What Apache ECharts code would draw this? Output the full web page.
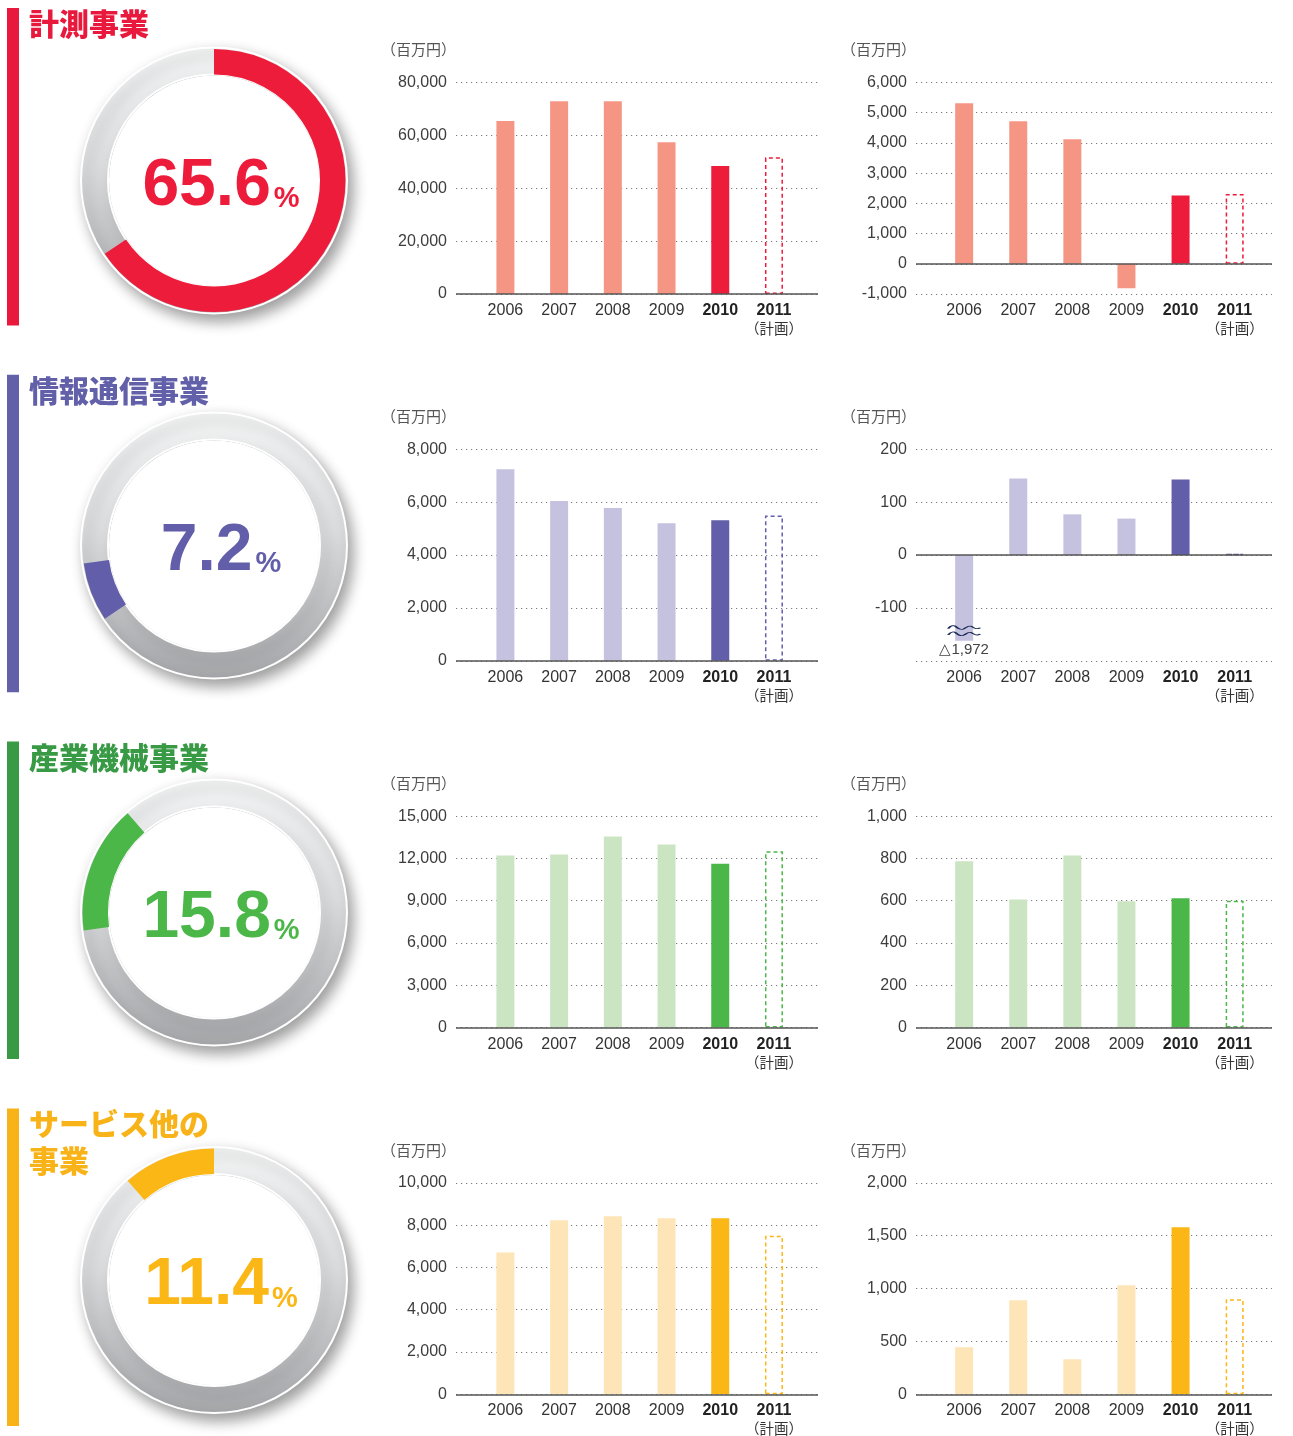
<!DOCTYPE html>
<html><head><meta charset="utf-8">
<script src="https://cdn.jsdelivr.net/npm/echarts@6/dist/echarts.min.js"></script>
<style>html,body{margin:0;padding:0;background:#fff}#c{width:1293px;height:1436px}</style>
</head><body><div id="c"></div>
<script>
// ---------------- DATA ----------------
const years = [2006, 2007, 2008, 2009, 2010, 2011];
const boldYears = [2010, 2011];
const planYear = 2011;
const planNote = '（計画）';
const unitLabel = '（百万円）';
const segmentNames = ['計測事業', '情報通信事業', '産業機械事業', 'サービス他の\n事業'];
const segmentShares = [65.6, 7.2, 15.8, 11.4];

const salesMeasurement  = [65400, 72900, 72900, 57400, 48400, 51700];
const incomeMeasurement = [5310, 4720, 4120, -810, 2260, 2310];
const salesInfoComm     = [7250, 6040, 5780, 5200, 5320, 5500];
const incomeInfoComm    = [-1972, 145, 77, 69, 143, 2];
const salesIndustrial   = [12200, 12280, 13550, 12990, 11620, 12500];
const incomeIndustrial  = [786, 606, 814, 597, 611, 600];
const salesService      = [6710, 8230, 8420, 8330, 8330, 7500];
const incomeService     = [445, 890, 331, 1032, 1581, 900];

const salesTicksMeasurement  = [0, 20000, 40000, 60000, 80000];
const incomeTicksMeasurement = [-1000, 0, 1000, 2000, 3000, 4000, 5000, 6000];
const salesTicksInfoComm     = [0, 2000, 4000, 6000, 8000];
const incomeTicksInfoComm    = [-200, -100, 0, 100, 200];
const salesTicksIndustrial   = [0, 3000, 6000, 9000, 12000, 15000];
const incomeTicksIndustrial  = [0, 200, 400, 600, 800, 1000];
const salesTicksService      = [0, 2000, 4000, 6000, 8000, 10000];
const incomeTicksService     = [0, 500, 1000, 1500, 2000];
const unlabeledTicksInfoComm = [-200];
// off-scale values (below the axis) are drawn broken at this level
const offScaleDrawLevel = -162;

// ---------------- STYLE / LAYOUT ----------------
const NARROW = "'Liberation Sans Narrow','Arial Narrow','Liberation Sans',Arial,sans-serif";
const SANS = "'Liberation Sans',Arial,sans-serif";
const JP = "'Noto Sans CJK JP','Noto Sans',sans-serif";

const rows = [
  {sales: salesMeasurement, income: incomeMeasurement, sT: salesTicksMeasurement, iT: incomeTicksMeasurement, hid: [],
   title: '#E8193C', dark: '#EE1C3B', light: '#F59685'},
  {sales: salesInfoComm, income: incomeInfoComm, sT: salesTicksInfoComm, iT: incomeTicksInfoComm, hid: unlabeledTicksInfoComm,
   title: '#6360AA', dark: '#625EA9', light: '#C5C2DF'},
  {sales: salesIndustrial, income: incomeIndustrial, sT: salesTicksIndustrial, iT: incomeTicksIndustrial, hid: [],
   title: '#399A46', dark: '#4BB748', light: '#CBE5C3'},
  {sales: salesService, income: incomeService, sT: salesTicksService, iT: incomeTicksService, hid: [],
   title: '#F8B318', dark: '#FBB716', light: '#FDE5B8'}
];
const rowPitch = 366.8;
const plotTop0 = 82.5, plotH = 211.5;
const stripeTop0 = 8, stripeH = 317.5;
const donutCx = 214, donutCy = [180.5, 545.5, 912.5, 1280];
const gridL = {left: 456, width: 362, xMin: 2005.08, xMax: 2011.82, unitX: 381};
const gridR = {left: 916, width: 356, xMin: 2005.11, xMax: 2011.69, unitX: 841};

const mctx = document.createElement('canvas').getContext('2d');
function textW(font, t) { mctx.font = font; return mctx.measureText(t).width; }

const grids = [], xAxes = [], yAxes = [], series = [], graphics = [];

function yearLabel(v) {
  const r = Math.round(v);
  if (Math.abs(v - r) > 1e-6 || !years.includes(r)) return '';
  if (r === planYear) return '{b|' + r + '}\n{p|' + planNote + '}';
  if (boldYears.includes(r)) return '{b|' + r + '}';
  return '{n|' + r + '}';
}

function addChart(k, g, top, ticks, hidden, vals, row) {
  grids.push({left: g.left, width: g.width, top: top, height: plotH, containLabel: false});
  xAxes.push({
    type: 'value', gridIndex: k, min: g.xMin, max: g.xMax, splitNumber: 6,
    axisLine: {show: false}, axisTick: {show: false}, splitLine: {show: false},
    axisLabel: {
      margin: 7, formatter: yearLabel, showMinLabel: true, showMaxLabel: true,
      rich: {
        n: {fontSize: 16, fontFamily: NARROW, color: '#333', lineHeight: 19},
        b: {fontSize: 16, fontFamily: NARROW, fontWeight: 'bold', color: '#222', lineHeight: 19},
        p: {fontSize: 14.5, fontFamily: JP, color: '#333', lineHeight: 17}
      }
    }
  });
  yAxes.push({
    type: 'value', gridIndex: k, min: ticks[0], max: ticks[ticks.length - 1], interval: ticks[1] - ticks[0],
    axisLine: {show: false}, axisTick: {show: false},
    axisLabel: {margin: 9, fontSize: 16, fontFamily: NARROW, color: '#3d3d3d',
      formatter: v => hidden.includes(v) ? '' : v.toLocaleString('en-US')},
    splitLine: {show: true, lineStyle: {color: '#7a7a7a', width: 1.2, type: [1.2, 3.8]}}
  });
  const minV = ticks[0];
  const data = years.map((y, i) => {
    const v = vals[i];
    const item = {value: [y, v < minV ? offScaleDrawLevel : v]};
    if (y === planYear) {
      item.itemStyle = {color: 'rgba(0,0,0,0)', borderColor: row.dark, borderWidth: 1.5, borderType: [4, 3]};
    } else if (boldYears.includes(y)) {
      item.itemStyle = {color: row.dark};
    } else {
      item.itemStyle = {color: row.light};
    }
    if (v < minV) {
      item.label = {show: true, position: 'bottom', distance: 2, color: '#444', fontSize: 15, fontFamily: SANS,
        formatter: '△' + Math.abs(v).toLocaleString('en-US')};
    }
    return item;
  });
  const breaks = years.filter((y, i) => vals[i] < minV).map(y => ({coord: [y, offScaleDrawLevel + 19]}));
  series.push({
    type: 'bar', xAxisIndex: k, yAxisIndex: k, barWidth: 18, silent: true, data: data,
    markLine: {silent: true, symbol: 'none', label: {show: false}, animation: false,
      lineStyle: {color: '#555', width: 1.5, type: 'solid'}, data: [{yAxis: 0}]},
    markPoint: breaks.length ? {
      silent: true, animation: false,
      symbol: 'path://M0,4 C3,0 6,0 8,2 C10,4 13,6 16,4 C19,2 21,0 24,2 C27,4 29,5 32,3 M0,11 C3,7 6,7 8,9 C10,11 13,13 16,11 C19,9 21,7 24,9 C27,11 29,12 32,10',
      symbolSize: [32, 10], symbolKeepAspect: false,
      itemStyle: {color: 'none', borderColor: '#1B2B57', borderWidth: 1.4},
      label: {show: false}, data: breaks
    } : undefined
  });
}

rows.forEach((row, r) => {
  const top = plotTop0 + r * rowPitch;
  addChart(2 * r, gridL, top, row.sT, [], row.sales, row);
  addChart(2 * r + 1, gridR, top, row.iT, row.hid, row.income, row);

  // unit labels
  [gridL, gridR].forEach(g => graphics.push({type: 'text', x: g.unitX, y: top - 33, silent: true, z: 100,
    style: {text: unitLabel, fontSize: 15, fontFamily: JP, fill: '#555', verticalAlign: 'middle'}}));

  // stripe + title
  const sTop = stripeTop0 + r * rowPitch;
  graphics.push({type: 'rect', silent: true, z: 100, shape: {x: 7, y: sTop, width: 12, height: stripeH}, style: {fill: row.title}});
  graphics.push({type: 'text', x: 29, y: sTop - 3, silent: true, z: 100,
    style: {text: segmentNames[r], fontSize: 30, fontWeight: 900, fontFamily: JP, fill: row.title, lineHeight: 37, verticalAlign: 'top'}});

  // donut
  const cy = donutCy[r];
  series.push({type: 'pie', center: [donutCx, cy], radius: [106, 133], silent: true, label: {show: false}, labelLine: {show: false},
    data: [{value: 1, itemStyle: {
      color: new echarts.graphic.LinearGradient(0, 0, 0, 1, [
        {offset: 0, color: '#f4f5f5'}, {offset: 0.45, color: '#dcdddf'}, {offset: 1, color: '#a6a7aa'}]),
      borderColor: '#fff', borderWidth: 2, shadowBlur: 14, shadowOffsetX: 5, shadowOffsetY: 7, shadowColor: 'rgba(0,0,0,0.38)'}}]});
  series.push({type: 'pie', center: [donutCx, cy], radius: [0, 105], silent: true, label: {show: false}, labelLine: {show: false},
    data: [{value: 1, itemStyle: {color: '#fff'}}]});
  series.push({type: 'pie', center: [donutCx, cy], radius: [106, 131.5], startAngle: 90, clockwise: true, silent: true,
    label: {show: false}, labelLine: {show: false},
    data: segmentShares.map((s, j) => ({value: s, itemStyle: {color: j === r ? row.dark : 'rgba(0,0,0,0)', borderWidth: 0}}))});

  // percentage text
  const num = segmentShares[r].toFixed(1);
  const fN = 'bold 66px ' + SANS, fP = 'bold 29px ' + SANS;
  const wN = textW(fN, num), wP = textW(fP, '%'), gap = 3;
  const left = donutCx + 7 - (wN + gap + wP) / 2;
  const base = cy + 29;
  graphics.push({type: 'text', x: left, y: base - 0.35 * 66, silent: true, z: 100,
    style: {text: num, fontSize: 66, fontWeight: 'bold', fontFamily: SANS, fill: row.dark, verticalAlign: 'middle', align: 'left'}});
  graphics.push({type: 'text', x: left + wN + gap, y: base - 0.35 * 29, silent: true, z: 100,
    style: {text: '%', fontSize: 29, fontWeight: 'bold', fontFamily: SANS, fill: row.dark, verticalAlign: 'middle', align: 'left'}});
});

const chart = echarts.init(document.getElementById('c'), null, {renderer: 'canvas'});
chart.setOption({
  animation: false,
  backgroundColor: '#fff',
  grid: grids, xAxis: xAxes, yAxis: yAxes, series: series,
  graphic: {elements: graphics}
});
</script>
</body></html>
